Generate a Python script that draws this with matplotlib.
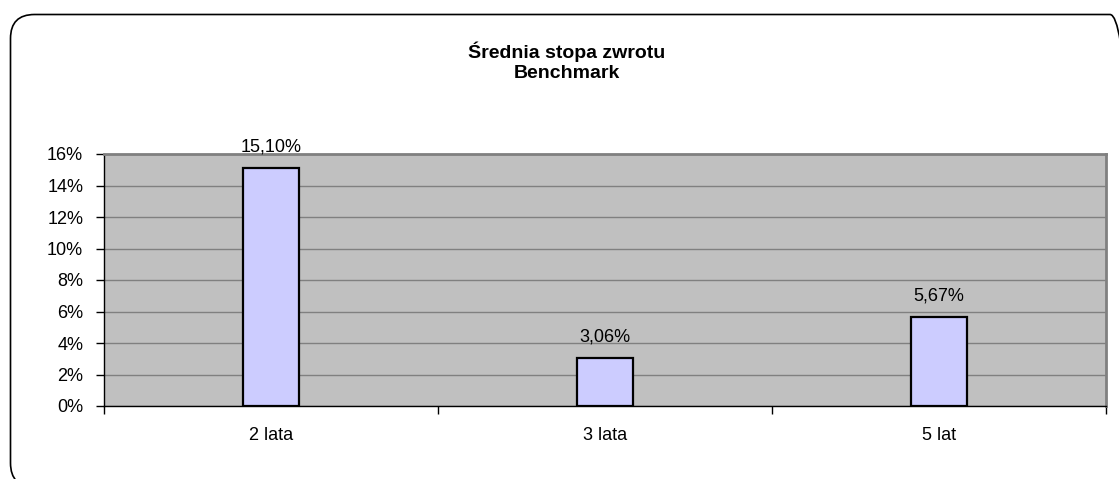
import matplotlib
matplotlib.use("Agg")
import matplotlib.pyplot as plt
from matplotlib.patches import FancyBboxPatch
from matplotlib.transforms import IdentityTransform
import numpy as np

categories = ["2 lata", "3 lata", "5 lat"]
values = [15.10, 3.06, 5.67]
yticks = [0, 2, 4, 6, 8, 10, 12, 14, 16]
title_lines = ["Średnia stopa zwrotu", "Benchmark"]

plt.rcParams['font.family'] = ['Liberation Sans', 'DejaVu Sans']

W, H = 1119, 479
fig = plt.figure(figsize=(W / 100, H / 100), dpi=100)
fig.patch.set_facecolor("white")

# rounded chart-area border in pixel coords (cut off at right and bottom)
border = FancyBboxPatch((10.5, -8), 1134 - 10.5, (H - 14.5) + 8,
                        boxstyle="round,pad=0,rounding_size=24",
                        transform=IdentityTransform(), fill=False,
                        edgecolor="black", linewidth=1.2)
fig.patches.append(border)

ax = fig.add_axes([104 / W, (H - 406) / H, (1106 - 104) / W, (406 - 154) / H])
ax.set_facecolor("#c0c0c0")

x = np.arange(len(categories))
ax.bar(x, values, width=0.168, color="#ccccff", edgecolor="black", linewidth=1.6, zorder=3)

ax.set_xlim(-0.5, len(categories) - 0.5)
ax.set_ylim(0, 16)
ax.set_yticks(yticks)
ax.set_yticklabels([f"{v}%" for v in yticks], fontsize=13)
ax.yaxis.grid(True, color="#808080", linewidth=1.0, zorder=0)
ax.set_axisbelow(True)

ax.set_xticks(x)
ax.set_xticklabels(categories, fontsize=13)
ax.set_xticks(np.arange(len(categories) + 1) - 0.5, minor=True)
ax.tick_params(axis="x", which="major", length=0, pad=15)
ax.tick_params(axis="x", which="minor", length=6, width=1, direction="out", color="black")
ax.tick_params(axis="y", length=6, width=1, direction="out", color="black", pad=9)

for s in ["top", "right"]:
    ax.spines[s].set_color("#808080")
    ax.spines[s].set_linewidth(2)
for s in ["left", "bottom"]:
    ax.spines[s].set_color("black")
    ax.spines[s].set_linewidth(1)

for xi, v in zip(x, values):
    ax.annotate(f"{v:.2f}".replace(".", ",") + "%", (xi, v), xytext=(0, 15),
                textcoords="offset points", ha="center", va="center", fontsize=13,
                annotation_clip=False)

fig.text(567 / W, 1 - 52 / H, title_lines[0], ha="center", va="center",
         fontsize=14, fontweight="bold")
fig.text(567 / W, 1 - 74 / H, title_lines[1], ha="center", va="center",
         fontsize=14, fontweight="bold")

fig.savefig("out.png", dpi=100)
